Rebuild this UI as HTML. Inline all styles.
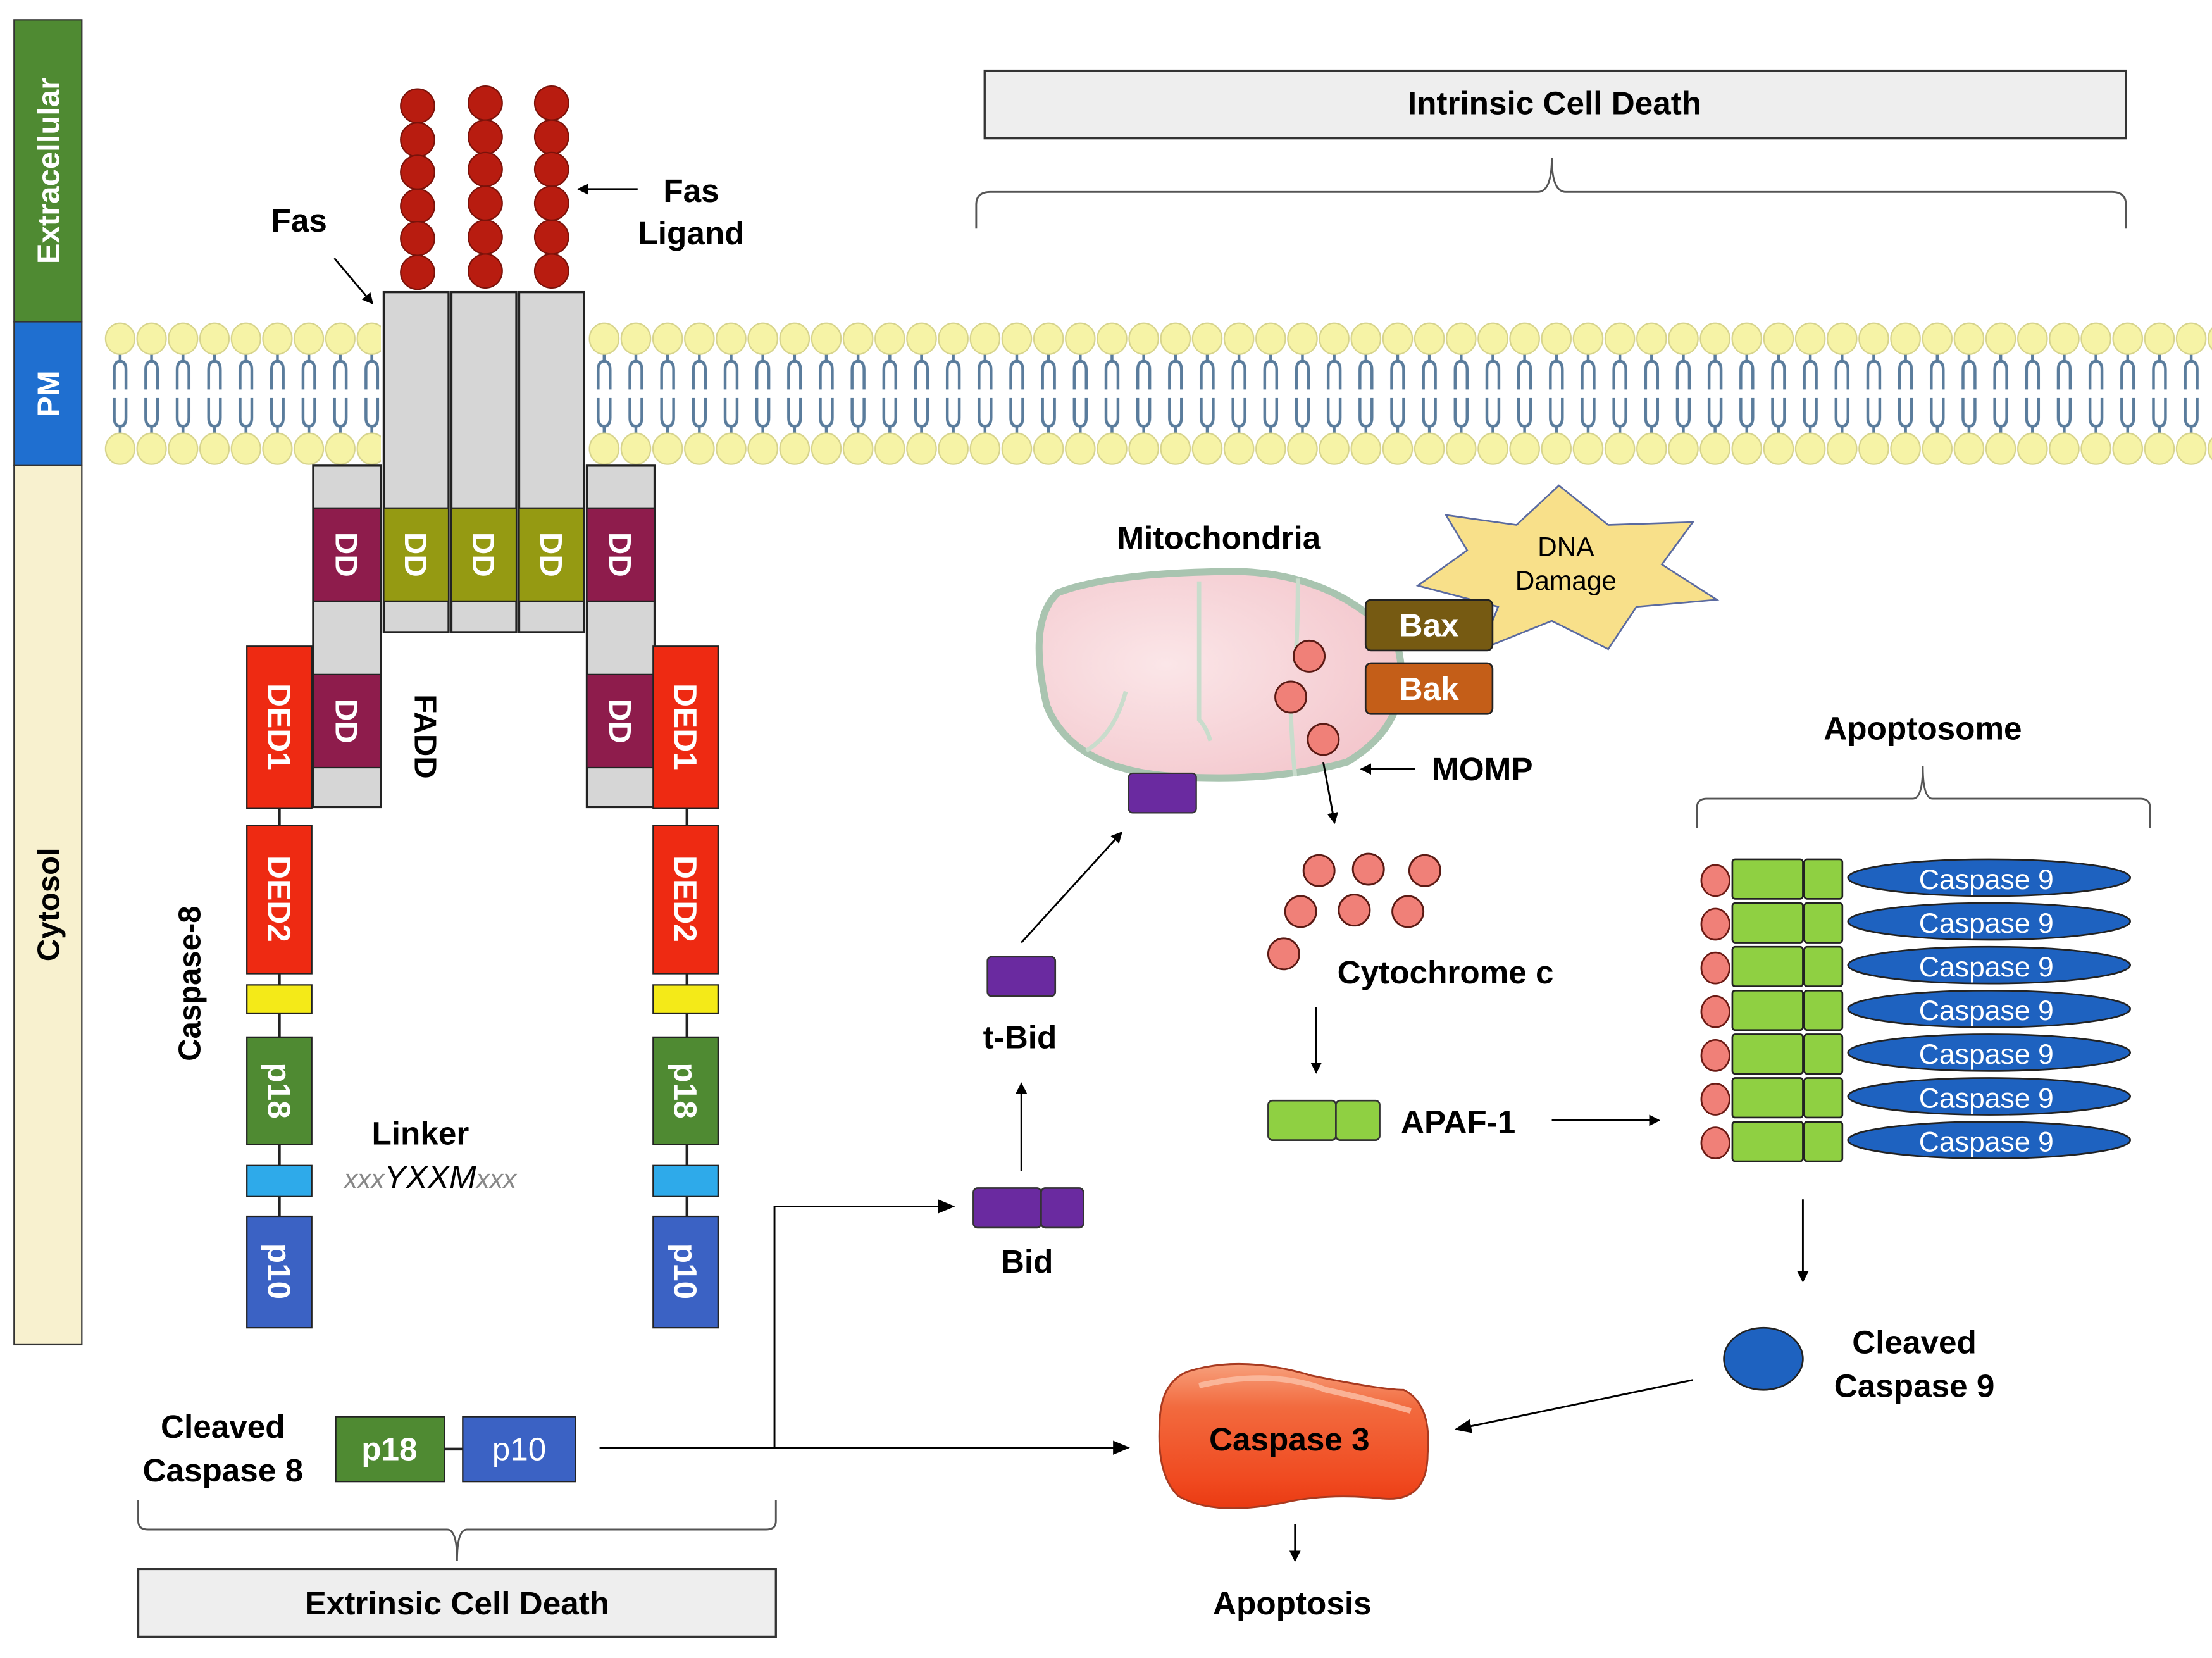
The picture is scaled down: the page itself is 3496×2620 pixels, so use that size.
<!DOCTYPE html>
<html><head><meta charset="utf-8"><style>
html,body{margin:0;padding:0;background:#fff}
svg{display:block}
text{font-family:"Liberation Sans",sans-serif}
.b{font-weight:bold}
</style></head><body>
<svg width="3496" height="2620" viewBox="0 0 1568 1175" xmlns="http://www.w3.org/2000/svg">
<defs>
<pattern id="lipA" patternUnits="userSpaceOnUse" x="74" y="226" width="22.3" height="106">
 <path d="M11.15,24 V30 M7,50 V36 Q7,30 11.15,30 Q15.3,30 15.3,36 V50 M7,56 V70 Q7,76 11.15,76 Q15.3,76 15.3,70 V56 M11.15,76 V82" stroke="#5a7c9c" stroke-width="2" fill="none"/>
 <ellipse cx="11.15" cy="14" rx="10.3" ry="11" fill="#f6f3a6" stroke="#d6d38c" stroke-width="1"/>
 <ellipse cx="11.15" cy="92" rx="10.3" ry="11" fill="#f6f3a6" stroke="#d6d38c" stroke-width="1"/>
</pattern>
<pattern id="lipB" patternUnits="userSpaceOnUse" x="417" y="226" width="22.5" height="106">
 <path d="M11.25,24 V30 M7,50 V36 Q7,30 11.25,30 Q15.5,30 15.5,36 V50 M7,56 V70 Q7,76 11.25,76 Q15.5,76 15.5,70 V56 M11.25,76 V82" stroke="#5a7c9c" stroke-width="2" fill="none"/>
 <ellipse cx="11.25" cy="14" rx="10.4" ry="11" fill="#f6f3a6" stroke="#d6d38c" stroke-width="1"/>
 <ellipse cx="11.25" cy="92" rx="10.4" ry="11" fill="#f6f3a6" stroke="#d6d38c" stroke-width="1"/>
</pattern>
<marker id="ah" markerWidth="8" markerHeight="8" refX="7" refY="4" orient="auto" markerUnits="userSpaceOnUse"><path d="M0,0 L8,4 L0,8 z" fill="#000"/></marker>
<marker id="ah2" markerWidth="12" markerHeight="10" refX="11" refY="5" orient="auto" markerUnits="userSpaceOnUse"><path d="M0,0 L12,5 L0,10 z" fill="#000"/></marker>
<radialGradient id="mito" cx="0.35" cy="0.45" r="0.7"><stop offset="0" stop-color="#fbe6e8"/><stop offset="1" stop-color="#f3c6cc"/></radialGradient>
<linearGradient id="c3" x1="0" y1="0" x2="0" y2="1"><stop offset="0" stop-color="#f7a07c"/><stop offset="0.3" stop-color="#f26a3e"/><stop offset="0.8" stop-color="#f04a20"/><stop offset="1" stop-color="#ea3a12"/></linearGradient>
</defs>

<!-- left bar -->
<rect x="10" y="14" width="48" height="214" fill="#4f8a32" stroke="#333" stroke-width="1"/>
<rect x="10" y="228" width="48" height="102" fill="#1f6fd0" stroke="#333" stroke-width="1"/>
<rect x="10" y="330" width="48" height="623" fill="#f8f1cf" stroke="#333" stroke-width="1"/>
<text class="b" transform="translate(42,121) rotate(-90)" text-anchor="middle" font-size="22" fill="#fff">Extracellular</text>
<text class="b" transform="translate(42,279) rotate(-90)" text-anchor="middle" font-size="22" fill="#fff">PM</text>
<text class="b" transform="translate(42,641) rotate(-90)" text-anchor="middle" font-size="22" fill="#000">Cytosol</text>

<!-- membrane -->
<rect x="74" y="226" width="196" height="106" fill="url(#lipA)"/>
<rect x="417" y="226" width="1151" height="106" fill="url(#lipB)"/>

<!-- Fas ligand balls -->
<g fill="#b81c10" stroke="#7a120a" stroke-width="1">
<circle cx="296" cy="75" r="12"/><circle cx="296" cy="99" r="12"/><circle cx="296" cy="122" r="12"/><circle cx="296" cy="146" r="12"/><circle cx="296" cy="169" r="12"/><circle cx="296" cy="193" r="12"/>
<circle cx="344" cy="73" r="12"/><circle cx="344" cy="97" r="12"/><circle cx="344" cy="120" r="12"/><circle cx="344" cy="144" r="12"/><circle cx="344" cy="168" r="12"/><circle cx="344" cy="192" r="12"/>
<circle cx="391" cy="73" r="12"/><circle cx="391" cy="97" r="12"/><circle cx="391" cy="120" r="12"/><circle cx="391" cy="144" r="12"/><circle cx="391" cy="168" r="12"/><circle cx="391" cy="192" r="12"/>
</g>

<!-- FADD grey outer -->
<g fill="#d6d6d6" stroke="#222" stroke-width="1.5">
<rect x="222" y="330" width="48" height="242"/>
<rect x="416" y="330" width="48" height="242"/>
<rect x="272" y="207" width="46" height="241"/>
<rect x="320" y="207" width="46" height="241"/>
<rect x="368" y="207" width="46" height="241"/>
</g>
<g stroke="#222" stroke-width="1">
<rect x="222" y="360" width="48" height="66" fill="#8e1c4c"/>
<rect x="416" y="360" width="48" height="66" fill="#8e1c4c"/>
<rect x="222" y="478" width="48" height="66" fill="#8e1c4c"/>
<rect x="416" y="478" width="48" height="66" fill="#8e1c4c"/>
<rect x="272" y="360" width="46" height="66" fill="#959a12"/>
<rect x="320" y="360" width="46" height="66" fill="#959a12"/>
<rect x="368" y="360" width="46" height="66" fill="#959a12"/>
</g>
<g class="b" font-size="22" fill="#fff" text-anchor="middle">
<text transform="translate(238,393) rotate(90)">DD</text>
<text transform="translate(432,393) rotate(90)">DD</text>
<text transform="translate(238,511) rotate(90)">DD</text>
<text transform="translate(432,511) rotate(90)">DD</text>
<text transform="translate(287,393) rotate(90)">DD</text>
<text transform="translate(335,393) rotate(90)">DD</text>
<text transform="translate(383,393) rotate(90)">DD</text>
</g>

<!-- Caspase-8 columns -->
<g stroke="#222" stroke-width="1">
<line x1="198" y1="572" x2="198" y2="862" stroke="#222" stroke-width="2"/>
<line x1="487" y1="572" x2="487" y2="862" stroke="#222" stroke-width="2"/>
<rect x="175" y="458" width="46" height="115" fill="#ee2a12"/>
<rect x="175" y="585" width="46" height="105" fill="#ee2a12"/>
<rect x="175" y="698" width="46" height="20" fill="#f4ea18"/>
<rect x="175" y="735" width="46" height="76" fill="#4f8a32"/>
<rect x="175" y="826" width="46" height="22" fill="#2eaaea"/>
<rect x="175" y="862" width="46" height="79" fill="#3b62c4"/>
<rect x="463" y="458" width="46" height="115" fill="#ee2a12"/>
<rect x="463" y="585" width="46" height="105" fill="#ee2a12"/>
<rect x="463" y="698" width="46" height="20" fill="#f4ea18"/>
<rect x="463" y="735" width="46" height="76" fill="#4f8a32"/>
<rect x="463" y="826" width="46" height="22" fill="#2eaaea"/>
<rect x="463" y="862" width="46" height="79" fill="#3b62c4"/>
</g>
<g class="b" font-size="23" fill="#fff" text-anchor="middle">
<text transform="translate(190,515) rotate(90)">DED1</text>
<text transform="translate(190,637) rotate(90)">DED2</text>
<text transform="translate(190,773) rotate(90)">p18</text>
<text transform="translate(190,901) rotate(90)">p10</text>
<text transform="translate(478,515) rotate(90)">DED1</text>
<text transform="translate(478,637) rotate(90)">DED2</text>
<text transform="translate(478,773) rotate(90)">p18</text>
<text transform="translate(478,901) rotate(90)">p10</text>
</g>
<text class="b" transform="translate(294,522) rotate(90)" text-anchor="middle" font-size="22">FADD</text>
<text class="b" transform="translate(142,697) rotate(-90)" text-anchor="middle" font-size="22">Caspase-8</text>
<text class="b" x="298" y="811" text-anchor="middle" font-size="23">Linker</text>
<text x="305" y="842" text-anchor="middle" font-size="23" font-style="italic"><tspan fill="#888" font-size="19">xxx</tspan><tspan>YXXM</tspan><tspan fill="#888" font-size="19">xxx</tspan></text>

<!-- Fas labels -->
<text class="b" x="212" y="164" text-anchor="middle" font-size="23">Fas</text>
<line x1="237" y1="183" x2="264" y2="215" stroke="#000" stroke-width="1.3" marker-end="url(#ah)"/>
<text class="b" x="490" y="143" text-anchor="middle" font-size="23">Fas</text>
<text class="b" x="490" y="173" text-anchor="middle" font-size="23">Ligand</text>
<line x1="452" y1="134" x2="410" y2="134" stroke="#000" stroke-width="1.3" marker-end="url(#ah)"/>

<!-- Intrinsic -->
<rect x="698" y="50" width="809" height="48" fill="#eeeeee" stroke="#333" stroke-width="1.5"/>
<text class="b" x="1102" y="81" text-anchor="middle" font-size="23">Intrinsic Cell Death</text>
<path d="M692,162 V145 Q692,136 702,136 H1090 Q1100,136 1100,112 Q1100,136 1110,136 H1497 Q1507,136 1507,145 V162" fill="none" stroke="#555" stroke-width="1.3"/>

<!-- Mitochondria -->
<text class="b" x="864" y="389" text-anchor="middle" font-size="23">Mitochondria</text>
<path d="M750,420 Q790,405 880,405 Q950,408 990,455 Q1005,510 955,540 Q900,555 830,550 Q760,545 742,500 Q728,440 750,420 z" fill="url(#mito)" stroke="#a9c4b0" stroke-width="5"/>
<path d="M850,412 V510 Q855,515 858,525 M920,410 Q920,450 918,470 M798,490 Q790,520 770,532 M915,505 Q916,530 918,550" stroke="#c9dccc" stroke-width="3" fill="none"/>
<rect x="800" y="548" width="48" height="28" rx="3" fill="#6a2aa0" stroke="#333" stroke-width="1"/>
<!-- star -->
<polygon points="1105,344 1140,372 1200,370 1178,400 1217,425 1160,430 1140,460 1100,440 1050,460 1062,430 1005,415 1040,390 1025,365 1075,372" fill="#f8e08a" stroke="#5a6aa0" stroke-width="1.2"/>
<text x="1110" y="394" text-anchor="middle" font-size="19">DNA</text>
<text x="1110" y="418" text-anchor="middle" font-size="19">Damage</text>
<rect x="968" y="425" width="90" height="36" rx="4" fill="#765a12" stroke="#222" stroke-width="1.2"/>
<text class="b" x="1013" y="451" text-anchor="middle" font-size="23" fill="#fff">Bax</text>
<rect x="968" y="470" width="90" height="36" rx="4" fill="#c45e18" stroke="#222" stroke-width="1.2"/>
<text class="b" x="1013" y="496" text-anchor="middle" font-size="23" fill="#fff">Bak</text>
<g fill="#f08078" stroke="#5a1a14" stroke-width="1.3">
<circle cx="928" cy="465" r="11"/><circle cx="915" cy="494" r="11"/><circle cx="938" cy="524" r="11"/>
</g>
<text class="b" x="1015" y="553" font-size="23">MOMP</text>
<line x1="1003" y1="545" x2="965" y2="545" stroke="#000" stroke-width="1.3" marker-end="url(#ah)"/>
<line x1="938" y1="540" x2="946" y2="583" stroke="#000" stroke-width="1.3" marker-end="url(#ah)"/>

<!-- cytochrome c -->
<g fill="#f08078" stroke="#5a1a14" stroke-width="1.3">
<circle cx="935" cy="617" r="11"/><circle cx="970" cy="616" r="11"/><circle cx="1010" cy="617" r="11"/>
<circle cx="922" cy="646" r="11"/><circle cx="960" cy="645" r="11"/><circle cx="998" cy="646" r="11"/>
<circle cx="910" cy="676" r="11"/>
</g>
<text class="b" x="948" y="697" font-size="23">Cytochrome c</text>
<line x1="933" y1="714" x2="933" y2="760" stroke="#000" stroke-width="1.3" marker-end="url(#ah)"/>
<rect x="899" y="780" width="48" height="28" rx="3" fill="#8fd042" stroke="#333" stroke-width="1.2"/>
<rect x="947" y="780" width="31" height="28" rx="3" fill="#8fd042" stroke="#333" stroke-width="1.2"/>
<text class="b" x="993" y="803" font-size="23">APAF-1</text>
<line x1="1100" y1="794" x2="1176" y2="794" stroke="#000" stroke-width="1.3" marker-end="url(#ah)"/>

<!-- Apoptosome -->
<text class="b" x="1363" y="524" text-anchor="middle" font-size="23">Apoptosome</text>
<path d="M1203,587 V572 Q1203,566 1210,566 H1356 Q1363,566 1363,543 Q1363,566 1370,566 H1517 Q1524,566 1524,572 V587" fill="none" stroke="#555" stroke-width="1.3"/>
<g id="apo">
<g stroke="#222" stroke-width="1.2">
<ellipse cx="1410" cy="622" rx="100" ry="13" fill="#1e62c0"/>
<rect x="1228" y="609" width="50" height="28" rx="2" fill="#8fd042"/>
<rect x="1279" y="609" width="27" height="28" rx="2" fill="#8fd042"/>
<ellipse cx="1216" cy="624" rx="10" ry="11" fill="#f08078" stroke="#6a1a14"/>
</g>
<text x="1408" y="630" text-anchor="middle" font-size="20" fill="#fff">Caspase 9</text>
</g>
<use href="#apo" y="31"/><use href="#apo" y="62"/><use href="#apo" y="93"/><use href="#apo" y="124"/><use href="#apo" y="155"/><use href="#apo" y="186"/>
<line x1="1278" y1="850" x2="1278" y2="908" stroke="#000" stroke-width="1.3" marker-end="url(#ah)"/>
<ellipse cx="1250" cy="963" rx="28" ry="22" fill="#1e62c0" stroke="#222" stroke-width="1.2"/>
<text class="b" x="1357" y="959" text-anchor="middle" font-size="23">Cleaved</text>
<text class="b" x="1357" y="990" text-anchor="middle" font-size="23">Caspase 9</text>
<line x1="1200" y1="978" x2="1032" y2="1013" stroke="#000" stroke-width="1.3" marker-end="url(#ah2)"/>

<!-- Bid -->
<rect x="690" y="842" width="48" height="28" rx="3" fill="#6a2aa0" stroke="#333" stroke-width="1.2"/>
<rect x="738" y="842" width="30" height="28" rx="3" fill="#6a2aa0" stroke="#333" stroke-width="1.2"/>
<text class="b" x="728" y="902" text-anchor="middle" font-size="23">Bid</text>
<line x1="724" y1="830" x2="724" y2="768" stroke="#000" stroke-width="1.3" marker-end="url(#ah)"/>
<text class="b" x="723" y="743" text-anchor="middle" font-size="23">t-Bid</text>
<rect x="700" y="678" width="48" height="28" rx="3" fill="#6a2aa0" stroke="#333" stroke-width="1.2"/>
<line x1="724" y1="668" x2="795" y2="590" stroke="#000" stroke-width="1.3" marker-end="url(#ah)"/>

<!-- Cleaved Caspase 8 -->
<text class="b" x="158" y="1019" text-anchor="middle" font-size="23">Cleaved</text>
<text class="b" x="158" y="1050" text-anchor="middle" font-size="23">Caspase 8</text>
<line x1="315" y1="1027" x2="328" y2="1027" stroke="#222" stroke-width="2"/>
<rect x="238" y="1004" width="77" height="46" fill="#4f8a32" stroke="#222" stroke-width="1"/>
<rect x="328" y="1004" width="80" height="46" fill="#3b62c4" stroke="#222" stroke-width="1"/>
<text class="b" x="276" y="1035" text-anchor="middle" font-size="23" fill="#fff">p18</text>
<text x="368" y="1035" text-anchor="middle" font-size="23" fill="#fff">p10</text>
<polyline points="425,1026 800,1026" fill="none" stroke="#000" stroke-width="1.3" marker-end="url(#ah2)"/>
<polyline points="549,1026 549,855 676,855" fill="none" stroke="#000" stroke-width="1.3" marker-end="url(#ah2)"/>
<path d="M98,1063 V1078 Q98,1084 105,1084 H317 Q324,1084 324,1106 Q324,1084 331,1084 H543 Q550,1084 550,1078 V1063" fill="none" stroke="#555" stroke-width="1.3"/>
<rect x="98" y="1112" width="452" height="48" fill="#eeeeee" stroke="#333" stroke-width="1.5"/>
<text class="b" x="324" y="1144" text-anchor="middle" font-size="23">Extrinsic Cell Death</text>

<!-- Caspase 3 -->
<path d="M842,972 Q880,960 930,975 Q980,985 995,985 Q1015,995 1012,1030 Q1012,1065 980,1062 Q940,1058 910,1065 Q860,1075 835,1060 Q820,1045 822,1010 Q822,980 842,972 z" fill="url(#c3)" stroke="#a83a20" stroke-width="1.3"/>
<path d="M850,982 Q900,970 940,985 Q985,995 1000,1000" fill="none" stroke="#fbc0a8" stroke-width="4" opacity="0.8"/>
<text class="b" x="914" y="1028" text-anchor="middle" font-size="23">Caspase 3</text>
<line x1="918" y1="1080" x2="918" y2="1106" stroke="#000" stroke-width="1.3" marker-end="url(#ah)"/>
<text class="b" x="916" y="1144" text-anchor="middle" font-size="23">Apoptosis</text>
</svg>
</body></html>
